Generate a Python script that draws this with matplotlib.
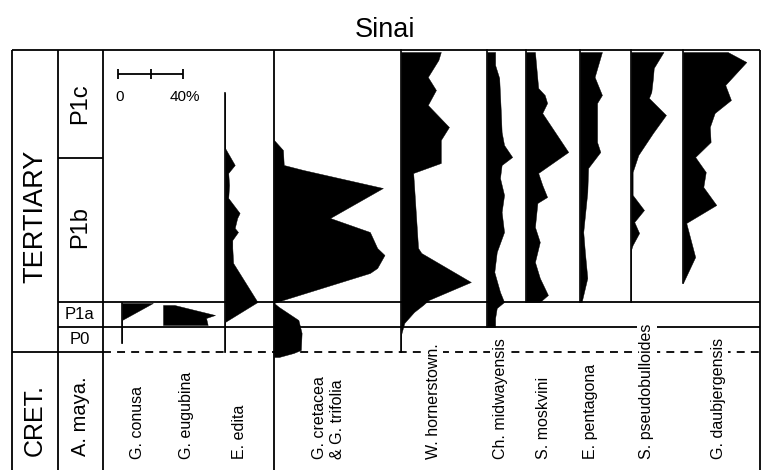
import numpy as np
import matplotlib.pyplot as plt

plt.rcParams['font.family'] = ['Liberation Sans', 'DejaVu Sans']

# stratigraphic height above the K/T boundary (0) and relative abundance (%)
edita_h = [25.9, 20.4, 18.7, 17.9, 16.7, 15.4, 13.9, 13.4, 12.4, 12.0, 11.2, 10.4, 8.9, 5.0, 3.0, 0.0]
edita_pct = [0, 0, 6, 2, 2.5, 2, 9, 7.5, 6, 8, 4.5, 4.5, 5, 20, 0, 0]

conusa_h = [4.9, 3.2, 0.9]
conusa_pct = [19, 0, 0]

eugubina_h = [4.7, 3.7, 3.4, 2.7]
eugubina_pct = [7, 32, 26.5, 27.5]

cretacea_h = [21.2, 20.2, 18.7, 18.2, 16.4, 13.4, 12.0, 10.4, 9.7, 8.4, 7.9, 5.2, 4.9,
              4.5, 3.2, 1.9, 0.2, -0.1, -0.5]
cretacea_pct = [0, 5.5, 6, 18, 67, 34.5, 59, 63.5, 68, 63.5, 59, 5.5, 0,
                3, 15, 17, 16.5, 12, 3]

hornerstown_h = [30.0, 29.2, 27.5, 26.2, 24.7, 22.5, 21.2, 18.9, 17.9, 16.7, 10.4, 9.9, 7.0,
                 5.2, 4.7, 4.0, 2.9, 1.7, 0.0]
hornerstown_pct = [24.5, 23, 16.5, 21.5, 16.5, 29.5, 24.5, 24.5, 7.5, 8, 10.5, 12.5, 43,
                   17, 13.5, 8, 2, 0, 0]

midway_h = [30.0, 28.7, 27.4, 24.0, 22.0, 20.7, 19.5, 18.7, 17.4, 15.7, 14.0, 12.0, 10.0,
            8.0, 6.0, 5.0, 4.4, 3.4, 2.5]
midway_pct = [5, 5, 7.5, 8.5, 9, 10.5, 15.5, 9, 8, 10.5, 9, 10.5, 6,
              4.5, 8, 10.5, 6, 5, 5]

moskvini_h = [30.0, 26.4, 25.7, 24.9, 23.9, 20.0, 17.9, 16.7, 15.5, 14.9, 12.5, 11.0, 9.0,
              7.4, 5.7, 5.0]
moskvini_pct = [5.5, 7.5, 11.5, 13, 10, 26, 7.5, 10, 13, 7, 5.5, 8.5, 5.5,
                8.5, 13.5, 8.5]

pentagona_h = [30.0, 27.5, 26.7, 25.7, 24.9, 23.0, 21.0, 20.0, 18.4, 16.0, 12.0, 10.0, 7.4, 5.0]
pentagona_pct = [13.5, 9, 11, 13.5, 10.5, 10.5, 10.5, 12.5, 5, 4.5, 2, 3, 4.5, 1]

pseudo_h = [30.0, 28.4, 27.4, 26.0, 25.4, 23.7, 21.9, 19.7, 18.0, 15.7, 14.2, 13.0, 11.9,
            10.7, 10.2, 5.0]
pseudo_pct = [20, 14, 13.5, 12.5, 11, 21.5, 13.5, 4.5, 1, 1, 8, 2, 5, 1, 0, 0]

daub_h = [30.0, 29.0, 26.7, 25.2, 23.9, 22.5, 21.0, 19.5, 18.0, 16.5, 14.7, 12.9, 9.5, 6.9]
daub_pct = [27.5, 39, 26, 29.5, 19.5, 16.5, 17, 7.5, 14, 12.5, 20.5, 2, 7.5, 0]

# zone boundaries (same height units)
top = 30.2
p1c_base = 19.4
p1b_base = 5.0
p1a_base = 2.5
kt = 0.0

# layout: x positions are in figure pixels, 1 % abundance = 1.625 px
PX_PER_PCT = 65 / 40
x_left, x_age, x_zone, x_right = 12, 58, 103, 760
y_bot, y_top = -11.8, 35.2

fig = plt.figure(figsize=(7.64, 4.70), dpi=100)
ax = fig.add_axes([0, 0, 1, 1])
ax.set_xlim(0, 764)
ax.set_ylim(y_bot, y_top)
ax.axis('off')

lw = 1.3
k = dict(color='black', lw=lw, solid_capstyle='butt')

# frame and columns
ax.plot([x_left, x_right], [top, top], **k)
for x in [x_left, x_age, x_zone, 274, x_right]:
    ax.plot([x, x], [y_bot, top], **k)
ax.plot([x_age, x_zone], [p1c_base, p1c_base], **k)
ax.plot([x_age, x_right], [p1b_base, p1b_base], **k)
ax.plot([x_age, x_right], [p1a_base, p1a_base], **k)
ax.plot([x_left, x_zone], [kt, kt], **k)
ax.plot([x_zone, x_right], [kt, kt], color='black', lw=lw, dashes=(4.4, 3.4))

# species: (baseline x, heights, pct, line from, line to, label x, label)
species = [
    (225, edita_h, edita_pct, 25.9, 0.0, 240, 'E. edita'),
    (122, conusa_h, conusa_pct, 4.9, 0.9, 137, 'G. conusa'),
    (163, eugubina_h, eugubina_pct, None, None, 187, 'G. eugubina'),
    (274, cretacea_h, cretacea_pct, None, None, 329, 'G. cretacea\n& G. trifolia'),
    (401, hornerstown_h, hornerstown_pct, top, 0.0, 433, 'W. hornerstown.'),
    (487, midway_h, midway_pct, top, p1a_base, 500, 'Ch. midwayensis'),
    (526, moskvini_h, moskvini_pct, top, p1b_base, 543, 'S. moskvini'),
    (580, pentagona_h, pentagona_pct, top, p1b_base, 590, 'E. pentagona'),
    (631, pseudo_h, pseudo_pct, top, p1b_base, 647, 'S. pseudobulloides'),
    (683, daub_h, daub_pct, top, 6.9, 718, 'G. daubjergensis'),
]

for base, h, pct, l0, l1, lx, name in species:
    h = np.array(h)
    xs = base + np.array(pct) * PX_PER_PCT
    ax.fill_betweenx(h, base, xs, color='black', lw=0.3, edgecolor='black')
    if l0 is not None:
        ax.plot([base, base], [l1, l0], color='black', lw=1.2)
    ax.text(lx, -10.7, name, rotation=90, ha='center', va='bottom',
            multialignment='left', fontsize=11.5, linespacing=1.25,
            bbox=dict(facecolor='white', edgecolor='none', pad=1.5), zorder=5)

# scale bar
sb_x, sb_h = 118, 27.8
sb_ticks = [0, 20, 40]
ax.plot([sb_x, sb_x + 40 * PX_PER_PCT], [sb_h, sb_h], **k)
for t in sb_ticks:
    ax.plot([sb_x + t * PX_PER_PCT] * 2, [sb_h - 0.5, sb_h + 0.5], **k)
ax.text(sb_x + 2, 25.5, '0', ha='center', va='center', fontsize=11)
ax.text(sb_x + 40 * PX_PER_PCT + 2, 25.5, '40%', ha='center', va='center', fontsize=11)

# zone and age labels
ax.text(35, 13.6, 'TERTIARY', rotation=90, ha='center', va='center', fontsize=19.5)
ax.text(35, -10.4, 'CRET.', rotation=90, ha='center', va='bottom', fontsize=18)
ax.text(80, -10.4, 'A. maya.', rotation=90, ha='center', va='bottom', fontsize=14.5)
ax.text(80, 24.8, 'P1c', rotation=90, ha='center', va='center', fontsize=17)
ax.text(80, 12.5, 'P1b', rotation=90, ha='center', va='center', fontsize=17)
ax.text(80, 3.75, 'P1a', ha='center', va='center', fontsize=12)
ax.text(80, 1.25, 'P0', ha='center', va='center', fontsize=12)

ax.text(385, 32.2, 'Sinai', ha='center', va='center', fontsize=19.5)

fig.savefig('out.png', dpi=100)
